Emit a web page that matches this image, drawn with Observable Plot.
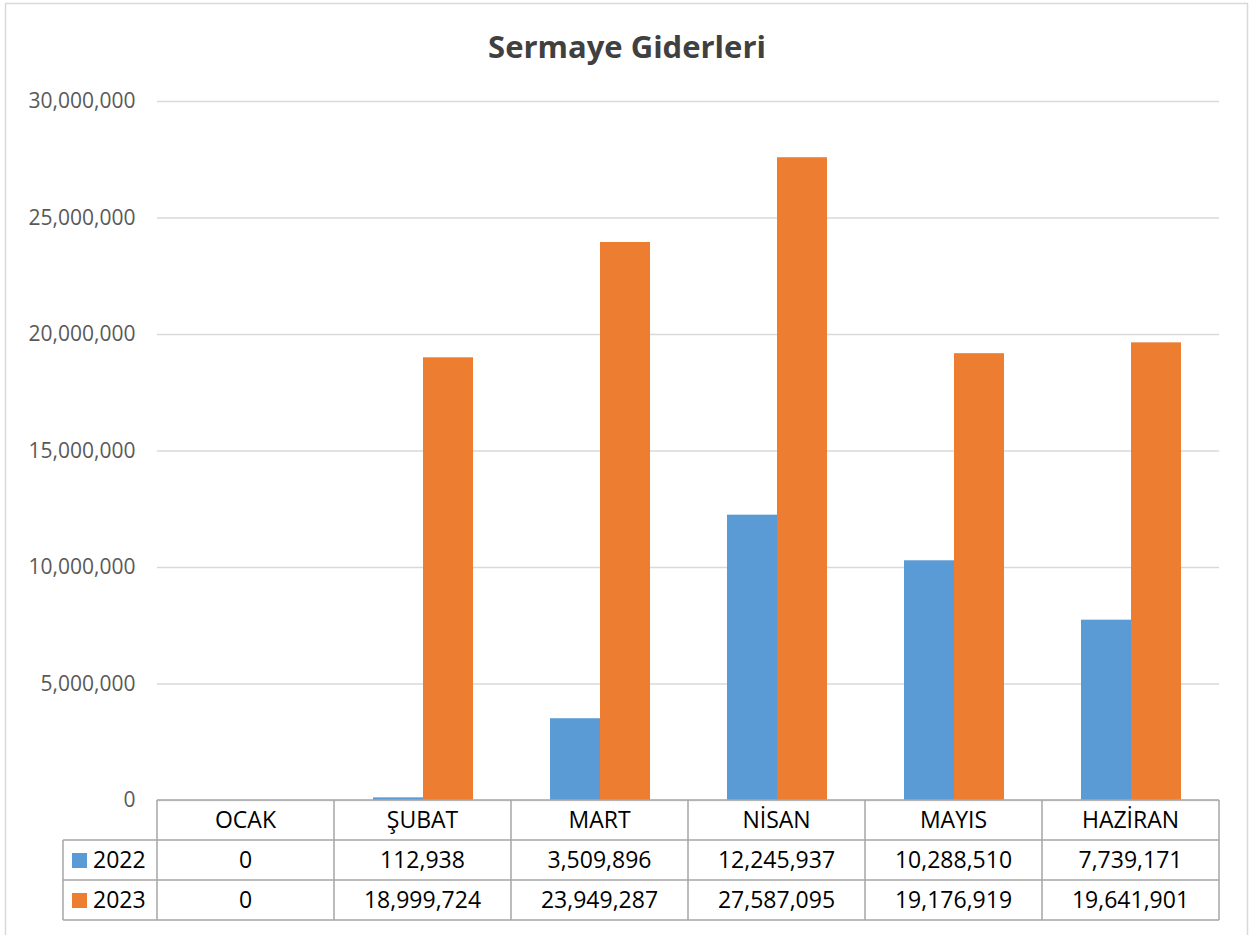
<!DOCTYPE html>
<html>
<head>
<meta charset="utf-8">
<script src="https://cdn.jsdelivr.net/npm/d3@7"></script>
<script src="https://cdn.jsdelivr.net/npm/@observablehq/plot@0.6"></script>
<style>
  html, body { margin: 0; padding: 0; background: #fff; }
  #chart { width: 1253px; height: 935px; overflow: hidden; }
</style>
</head>
<body>
<div id="chart"></div>
<script>
const title = "Sermaye Giderleri";
const months = ["OCAK", "ŞUBAT", "MART", "NİSAN", "MAYIS", "HAZİRAN"];
const years = ["2022", "2023"];
const values2022 = [0, 112938, 3509896, 12245937, 10288510, 7739171];
const values2023 = [0, 18999724, 23949287, 27587095, 19176919, 19641901];
const yTicks = [0, 5000000, 10000000, 15000000, 20000000, 25000000, 30000000];
const colors = ["#5b9bd5", "#ed7d31"];

const seriesValues = [values2022, values2023];
const data = [];
months.forEach((m, i) => years.forEach((y, j) => data.push({month: m, year: y, value: seriesValues[j][i]})));

const FONT = "'Open Sans', 'DejaVu Sans', sans-serif";
const fmt = d3.format(",");

const chart = Plot.plot({
  width: 1253,
  height: 935,
  marginTop: 101,
  marginBottom: 135,
  marginLeft: 155,
  marginRight: 33,
  style: {fontFamily: FONT, fontSize: "20px", background: "#fff"},
  fx: {domain: months, padding: 0, axis: null},
  x: {domain: years, axis: null, paddingInner: 0, paddingOuter: 0.75},
  y: {domain: [0, 30000000], axis: null},
  color: {domain: years, range: colors},
  marks: [
    Plot.gridY(yTicks, {stroke: "#d9d9d9", strokeOpacity: 1, strokeWidth: 1.3}),
    Plot.barY(data, {fx: "month", x: "year", y: "value", fill: "year"}),
    Plot.axisY(yTicks, {tickSize: 0, tickPadding: 22, tickFormat: fmt, fill: "#595959", fontSize: 21, label: null}),
  ]
});
document.getElementById("chart").appendChild(chart);

const svg = d3.select(chart);
const fx = chart.scale("fx");
const yS = chart.scale("y");
const bw = fx.bandwidth;
const left = fx.apply(months[0]);
const right = fx.apply(months[months.length - 1]) + bw;
const y0 = yS.apply(0);
const rowH = 40;
const legLeft = 63;
const lineColor = "#a6a6a6";
const tableFont = 23;

// outer chart border
svg.append("rect").attr("x", 5.5).attr("y", 3.5).attr("width", 1242).attr("height", 960)
  .attr("fill", "none").attr("stroke", "#d9d9d9").attr("stroke-width", 1.5);

// title
svg.append("text").attr("x", 627).attr("y", 58).attr("text-anchor", "middle")
  .attr("font-family", FONT).attr("font-size", 31).attr("font-weight", "bold").attr("fill", "#404040")
  .text(title);

const g = svg.append("g").attr("stroke", lineColor).attr("stroke-width", 1.5).attr("fill", "none");
g.append("line").attr("x1", left).attr("x2", right).attr("y1", y0).attr("y2", y0);
for (let r = 1; r <= 3; r++) {
  g.append("line").attr("x1", legLeft).attr("x2", right).attr("y1", y0 + r * rowH).attr("y2", y0 + r * rowH);
}
months.forEach(m => {
  g.append("line").attr("x1", fx.apply(m)).attr("x2", fx.apply(m)).attr("y1", y0).attr("y2", y0 + 3 * rowH);
});
g.append("line").attr("x1", right).attr("x2", right).attr("y1", y0).attr("y2", y0 + 3 * rowH);
g.append("line").attr("x1", legLeft).attr("x2", legLeft).attr("y1", y0 + rowH).attr("y2", y0 + 3 * rowH);

const t = svg.append("g").attr("font-family", FONT).attr("font-size", tableFont).attr("fill", "#000")
  .attr("text-anchor", "middle");
months.forEach((m, i) => {
  const cx = fx.apply(m) + bw / 2;
  t.append("text").attr("x", cx).attr("y", y0 + rowH / 2).attr("dy", "0.36em").text(m);
  seriesValues.forEach((vals, j) => {
    t.append("text").attr("x", cx).attr("y", y0 + rowH * (j + 1.5)).attr("dy", "0.36em").text(fmt(vals[i]));
  });
});
years.forEach((yr, j) => {
  const cy = y0 + rowH * (j + 1.5);
  svg.append("rect").attr("x", 72).attr("y", cy - 7).attr("width", 15).attr("height", 15).attr("fill", colors[j]);
  svg.append("text").attr("x", 93).attr("y", cy).attr("dy", "0.36em").attr("text-anchor", "start")
    .attr("font-family", FONT).attr("font-size", tableFont).attr("fill", "#000").text(yr);
});
</script>
</body>
</html>
